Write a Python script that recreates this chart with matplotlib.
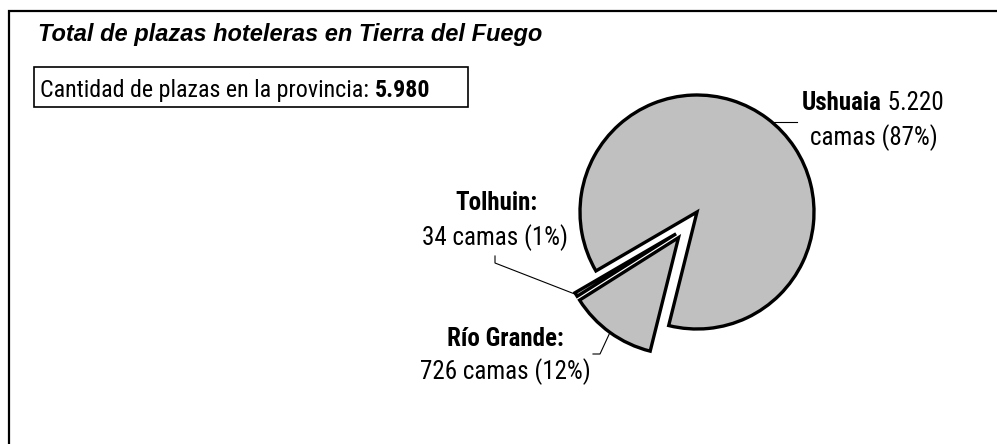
import matplotlib
matplotlib.use("Agg")
import matplotlib.pyplot as plt
from matplotlib import font_manager as fm
from matplotlib.patches import Rectangle
import numpy as np

# data
cities = ["Ushuaia", "Tolhuin", "Río Grande"]
beds = [5220, 34, 726]
explode = [0.0, 0.26, 0.27]   # fraction of the radius
title = "Total de plazas hoteleras en Tierra del Fuego"

W, H = 997, 444
R = 117
LBL = 18

installed = {f.name for f in fm.fontManager.ttflist}
NARROW = [f for f in ["Liberation Sans Narrow", "Arial Narrow", "Roboto Condensed",
                      "Archivo Narrow", "Barlow Condensed"] if f in installed] + ["DejaVu Sans"]


def Y(y):
    # layout positions are read top-down from the picture
    return H - y


def fmt(n):
    return f"{n:,}".replace(",", ".")


total = sum(beds)
pct = [round(100 * b / total) for b in beds]

fig = plt.figure(figsize=(W / 100, H / 100), dpi=100)
ax = fig.add_axes([0, 0, 1, 1])

wedges, _ = ax.pie(
    beds, explode=[e * R for e in explode], startangle=256, counterclock=True,
    center=(697, Y(212)), radius=R, colors=["#c0c0c0"] * 3,
    wedgeprops=dict(edgecolor="black", linewidth=2.4, joinstyle="miter"),
    frame=True,
)
ax.set_xlim(0, W)
ax.set_ylim(0, H)
ax.axis("off")

# Tolhuin moves out together with Río Grande, nudged a little off its edge
rg, tol = wedges[2], wedges[1]
nudge = np.deg2rad(tol.theta2 - 90)
tol.set_center((rg.center[0] + 4.5 * np.cos(nudge), rg.center[1] + 4.5 * np.sin(nudge)))


def rim(w, ang):
    a = np.deg2rad(ang)
    return w.center[0] + w.r * np.cos(a), w.center[1] + w.r * np.sin(a)


# outer frame (only top and left edges are in view)
ax.plot([9, 9, W + 5], [Y(H + 5), Y(11), Y(11)], color="black", lw=1.6,
        solid_joinstyle="miter", clip_on=False)

ax.text(38, Y(41.5), title, fontsize=17, fontweight="bold", style="italic",
        family="Liberation Sans", ha="left", va="baseline")

ax.add_patch(Rectangle((34, Y(107)), 434, 40, fill=False, ec="black", lw=1.2))
t = ax.text(40, Y(97), "Cantidad de plazas en la provincia: ", fontsize=17.3,
            family=NARROW, ha="left", va="baseline")
ax.annotate(fmt(total), xy=(1, 0), xycoords=t, fontsize=17.3, family=NARROW,
            fontweight="bold", ha="left", va="bottom")

lead = dict(color="black", lw=0.8)

# Ushuaia
u = wedges[0]
ux, uy = rim(u, 50)
ax.plot([ux, 797], [uy, uy], **lead)
t = ax.text(802, Y(110), cities[0], fontsize=LBL, family=NARROW,
            fontweight="bold", ha="left", va="baseline")
ax.annotate(" " + fmt(beds[0]), xy=(1, 0), xycoords=t, fontsize=LBL,
            family=NARROW, ha="left", va="bottom")
ax.text(874, Y(145), f"camas ({pct[0]}%)", fontsize=LBL, family=NARROW,
        ha="center", va="baseline")

# Tolhuin
tx, ty = rim(tol, (tol.theta1 + tol.theta2) / 2)
ax.plot([tx, 495, 495], [ty, Y(263), Y(256)], **lead)
ax.text(496, Y(210), f"{cities[1]}:", fontsize=LBL, family=NARROW,
        fontweight="bold", ha="center", va="baseline")
ax.text(495, Y(245), f"{beds[1]} camas ({pct[1]}%)", fontsize=LBL,
        family=NARROW, ha="center", va="baseline")

# Río Grande
rx, ry = rim(rg, (rg.theta1 + rg.theta2) / 2)
ax.plot([rx, 600, 593], [ry, Y(354), Y(354)], **lead)
ax.text(505, Y(346), f"{cities[2]}:", fontsize=LBL, family=NARROW,
        fontweight="bold", ha="center", va="baseline")
ax.text(505, Y(379), f"{beds[2]} camas ({pct[2]}%)", fontsize=LBL,
        family=NARROW, ha="center", va="baseline")

fig.savefig("out.png", dpi=100, facecolor="white")
